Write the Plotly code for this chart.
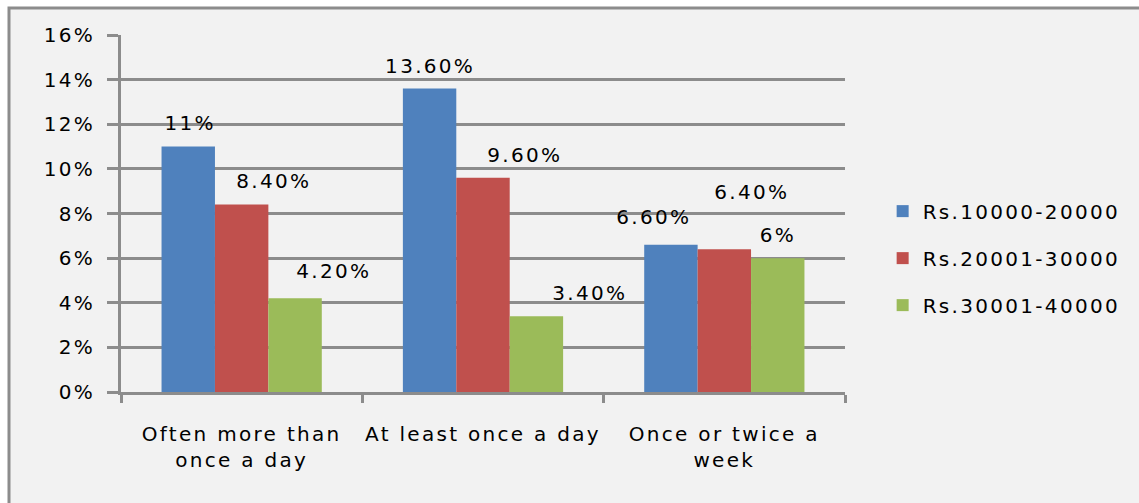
import plotly.graph_objects as go

# Frequency categories and income bands
categories = ["Often more than<br>once a day", "At least once a day", "Once or twice a<br>week"]
series_names = ["Rs.10000-20000", "Rs.20001-30000", "Rs.30001-40000"]
values_low = [11.0, 13.6, 6.6]
values_mid = [8.4, 9.6, 6.4]
values_high = [4.2, 3.4, 6.0]
colors = ["#4f81bd", "#c0504d", "#9bbb59"]

# Hand-placed label offsets (pixels) for each series, per category
label_dx = [[-52, -53, -70], [32, 42, 28], [92, 107, 54]]
label_dy = [24, 23, 28], [24, 23, 57], [27, 23, 23]

FONT = "DejaVu Sans"
GRID = "#8c8c8c"


def fmt(v):
    return f"{v:.0f}%" if float(v).is_integer() else f"{v:.2f}%"


fig = go.Figure()
all_series = [values_low, values_mid, values_high]
for i, (name, vals) in enumerate(zip(series_names, all_series)):
    fig.add_trace(go.Bar(
        x=categories, y=vals, name=name, legendgroup=name,
        marker=dict(color=colors[i], line=dict(width=0)),
        hoverinfo="skip",
    ))

annotations = []
for i, vals in enumerate(all_series):
    for j, (cat, v) in enumerate(zip(categories, vals)):
        annotations.append(dict(
            x=cat, y=v, xref="x", yref="y", text=fmt(v), showarrow=False,
            xshift=label_dx[i][j], yshift=label_dy[i][j],
            xanchor="center", yanchor="middle",
            font=dict(family=FONT, size=20, color="#000"),
        ))

fig.update_layout(
    width=1139, height=503,
    margin=dict(l=121, r=294, t=35, b=111),
    paper_bgcolor="white", plot_bgcolor="rgba(0,0,0,0)",
    barmode="group", bargap=0.336, bargroupgap=0,
    font=dict(family=FONT, size=20, color="#000"),
    showlegend=True,
    legend=dict(x=1.052, y=0.375, xanchor="left", yanchor="middle",
                traceorder="grouped", tracegroupgap=18,
                font=dict(family=FONT, size=20, color="#000"),
                bgcolor="rgba(0,0,0,0)"),
    annotations=annotations,
    shapes=[dict(type="rect", xref="paper", yref="paper",
                 x0=-0.1547, x1=2, y0=-1, y1=1.0756,
                 line=dict(color=GRID, width=3), fillcolor="#f2f2f2",
                 layer="below")],
    hovermode=False,
)

fig.update_yaxes(
    range=[0, 16], dtick=2, ticksuffix="%",
    showgrid=True, gridcolor=GRID, gridwidth=3,
    showline=True, linecolor=GRID, linewidth=3,
    ticks="outside", ticklen=11, tickwidth=3, tickcolor=GRID,
    ticklabelstandoff=8, zeroline=False,
    tickfont=dict(family=FONT, size=20, color="#000"),
)
fig.update_xaxes(
    showline=True, linecolor=GRID, linewidth=3,
    ticks="outside", tickson="boundaries", ticklen=8, tickwidth=3, tickcolor=GRID,
    ticklabelstandoff=22,
    tickfont=dict(family=FONT, size=20, color="#000"),
)

# Widen glyph spacing on every label and let legend text run past its box
spacing_js = (
    "document.querySelectorAll('.main-svg text').forEach(function(t){"
    "t.style.letterSpacing='2.3px';});"
    "document.querySelectorAll('.legend [clip-path]').forEach(function(e){"
    "e.removeAttribute('clip-path');});"
)
fig.write_html("out.html", post_script=spacing_js, config={"staticPlot": True})
